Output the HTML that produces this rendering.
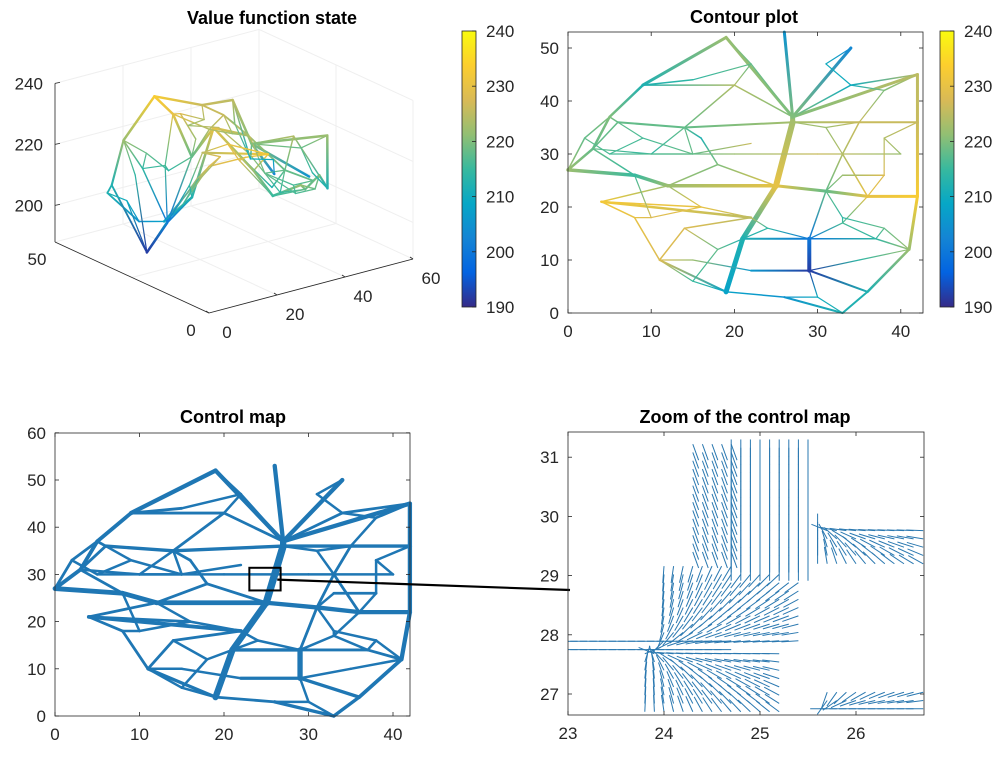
<!DOCTYPE html>
<html><head><meta charset="utf-8">
<style>
html,body{margin:0;padding:0;background:#fff;}
svg{display:block;font-family:"Liberation Sans",Arial,sans-serif;}
.tk{font-size:17px;fill:#262626;}
.tt{font-size:18px;font-weight:bold;fill:#000;}
</style></head>
<body>
<svg id="fig" width="1007" height="772" viewBox="0 0 1007 772">
<defs>
<linearGradient id="parula" x1="0" y1="1" x2="0" y2="0">
<stop offset="0" stop-color="#352A87"/><stop offset="0.125" stop-color="#0363E1"/><stop offset="0.25" stop-color="#1485D4"/><stop offset="0.375" stop-color="#06A7C6"/><stop offset="0.5" stop-color="#38B99E"/><stop offset="0.625" stop-color="#92BF73"/><stop offset="0.75" stop-color="#D9BA56"/><stop offset="0.875" stop-color="#FCCE2E"/><stop offset="1" stop-color="#F9FB0E"/>
</linearGradient>
</defs>
<text class="tt" x="272" y="24" text-anchor="middle">Value function state</text>
<text class="tt" x="744" y="23" text-anchor="middle">Contour plot</text>
<text class="tt" x="233" y="423" text-anchor="middle">Control map</text>
<text class="tt" x="745" y="423" text-anchor="middle">Zoom of the control map</text>
<g id="g3d"></g>
<g id="gcontour"></g>
<g id="gcontrol"></g>
<g id="gzoom"></g>
<g id="gcb"></g>
</svg>
<script>
// ---------- data ----------
const nodeX = [0,5,9,19,26,34,42,42,42,41,36,33,26,19,11,8,4,27,25,21,6,14,27,35,12,31,36,29,29,22,37,16,20,33,14,3,18,8,34,22,10,20,30,40,15,35,33,
  2,15,22,31,38,5,15,33,38,16,18,24,33,38,30,15,10,22,9,38,31];
const nodeY = [27,37,43,52,53,50,45,36,22,12,4,0,3,4,10,18,21,37,24,14,36,35,36,36,24,23,22,14,8,8,14,33,43,30,16,31,28,26,43,18,30,30,30,30,10,10,17,
  33,44,47,47,42,30,30,26,26,20,12,16,18,16,3,6,18,32,33,33,35];
const nodeV = [222,220,212,222,205,203,225,226,233,222,212,212,205,208,228,230,232,220,230,212,218,218,223,226,222,218,230,200,192,206,214,212,224,224,228,218,220,215,210,225,214,222,226,222,222,214,216,
  218,214,218,210,220,216,218,222,228,230,218,214,214,218,210,215,228,226,216,224,222];
const edgeA = [0,35,1,2,3,17,17,17,6,7,8,9,10,11,12,13,14,15,0,37,24,18,25,26,17,22,18,19,20,21,22,23,16,16,34,34,19,27,27,28,28,30,25,25,33,33,21,31,36,36,35,32,32,38,38,20,2,1,35,40,41,42,40,14,44,28,45,27,46,46,
  0,47,47,52,53,53,65,65,65,48,48,49,49,49,50,50,51,51,51,67,67,67,54,54,55,55,66,66,56,56,56,63,63,63,57,57,57,62,62,58,58,58,59,59,60,60,61,61,61,59];
const edgeB = [35,1,2,3,17,4,5,6,7,8,9,10,11,12,13,14,15,16,37,24,18,25,26,8,22,18,19,13,21,22,23,7,24,39,39,14,27,30,28,29,10,9,27,33,23,26,31,36,18,24,37,17,21,17,6,35,32,20,40,41,42,43,21,44,29,45,9,46,26,30,
  47,1,52,53,64,21,20,52,53,2,49,3,32,17,5,38,6,23,38,22,23,33,25,55,26,66,7,43,16,39,24,15,56,37,34,19,62,13,14,19,27,39,46,60,30,9,11,28,12,25];
const edgeW = [2.5,2.5,2.5,3,3,3,3,3,3,3,3,2.5,2,2,1.5,2,1.5,1.5,3.5,3.5,3.5,3,3,3,5,6,5,5,2,2,2,2,1.5,2.5,1.5,1.5,2,1.5,4,2,2,1.5,1.5,1.5,1.5,1.5,1.5,1.5,1.5,1.5,1.5,1.5,1.5,1.5,1.5,1.5,1.5,1.5,1.2,1.2,1.2,1.2,1.2,1.2,1.2,1.2,1.2,1.2,1.2,1.2,
  1.5,1.5,1.2,1.2,1.2,1.2,1.2,1.2,1.2,1.5,1.2,1.2,1.2,1.2,1.2,1.2,1.5,1.2,1.2,1.2,1.2,1.2,1.2,1.5,1.2,1.2,1.2,1.2,1.5,1.2,1.2,1.2,1.2,1.2,1.2,1.2,1.2,1.2,1.2,1.2,1.2,1.2,1.2,1.2,1.2,1.2,1.2,1.2,1.2,1.2];
const cbTicks = [190,200,210,220,230,240];
const contourXTicks = [0,10,20,30,40];
const contourYTicks = [0,10,20,30,40,50];
const controlXTicks = [0,10,20,30,40];
const controlYTicks = [0,10,20,30,40,50,60];
const zoomXTicks = [23,24,25,26];
const zoomYTicks = [27,28,29,30,31];
const d3ZTicks = [200,220,240];
const d3XTicks = [0,20,40,60];
const d3YTicks = [0,50];
// quiver regions in zoom (data coords): x0,x1,y0,y1, sink x, sink y (NaN = fixed angle deg in sinkY)
const qX0 = [24.7,24.0,23.8,25.6,23.0,24.3,25.7];
const qX1 = [25.5,25.4,25.2,26.7,24.7,24.7,26.7];
const qY0 = [29.2,27.9,26.7,29.2,27.75,29.4,26.75];
const qY1 = [31.4,29.2,27.7,29.8,27.95,31.3,27.05];
const qSX = [NaN,23.9,23.85,25.6,NaN,NaN,25.6];
const qSY = [-90,27.8,27.7,29.8,180,-70,26.75];

// ---------- helpers ----------
const NS="http://www.w3.org/2000/svg";
function mk(tag,attrs,parent){const e=document.createElementNS(NS,tag);for(const k in attrs)e.setAttribute(k,attrs[k]);parent.appendChild(e);return e;}
const stops=[[0,[53,42,135]],[0.125,[3,99,225]],[0.25,[20,133,212]],[0.375,[6,167,198]],[0.5,[56,185,158]],[0.625,[146,191,115]],[0.75,[217,186,86]],[0.875,[252,206,46]],[1,[249,251,14]]];
function parula(v){let t=(v-190)/50;t=Math.max(0,Math.min(1,t));for(let i=1;i<stops.length;i++){if(t<=stops[i][0]){const a=stops[i-1],b=stops[i];const f=(t-a[0])/(b[0]-a[0]);const c=a[1].map((x,j)=>Math.round(x+(b[1][j]-x)*f));return `rgb(${c[0]},${c[1]},${c[2]})`;}}return 'rgb(249,251,14)';}
const defs=document.querySelector('defs');
let gid=0;
function gradLine(parent,x1,y1,x2,y2,v1,v2,w,name){
  const id='lg'+(gid++);
  const lg=mk('linearGradient',{id:id,gradientUnits:'userSpaceOnUse',x1:x1,y1:y1,x2:x2,y2:y2},defs);
  mk('stop',{offset:0,'stop-color':parula(v1)},lg);mk('stop',{offset:1,'stop-color':parula(v2)},lg);
  const l=mk('line',{x1:x1,y1:y1,x2:x2+0.01,y2:y2+0.01,stroke:`url(#${id})`,'stroke-width':w,'stroke-linecap':'round'},parent);
  
  
  return l;
}
function txt(parent,x,y,s,anchor,name){const t=mk('text',{x:x,y:y,'text-anchor':anchor,class:'tk'},parent);t.textContent=s;
  
  return t;}
function axesBox(parent,x0,y0,x1,y1,name){const r=mk('rect',{x:x0,y:y0,width:x1-x0,height:y1-y0,fill:'none',stroke:'#262626','stroke-width':0.8},parent);
  
  }
function ticks2d(parent,xs,ys,sx,sy,x0,y0,x1,y1,pre){
  xs.forEach(v=>{const X=sx(v);mk('line',{x1:X,y1:y1,x2:X,y2:y1-4,stroke:'#262626','stroke-width':0.8},parent);mk('line',{x1:X,y1:y0,x2:X,y2:y0+4,stroke:'#262626','stroke-width':0.8},parent);txt(parent,X,y1+24,String(v),'middle',pre+'-x-tick-'+v);});
  ys.forEach(v=>{const Y=sy(v);mk('line',{x1:x0,y1:Y,x2:x0+4,y2:Y,stroke:'#262626','stroke-width':0.8},parent);mk('line',{x1:x1,y1:Y,x2:x1-4,y2:Y,stroke:'#262626','stroke-width':0.8},parent);txt(parent,x0-9,Y+6,String(v),'end',pre+'-y-tick-'+v);});
}

// ---------- contour plot ----------
(function(){
  const g=document.getElementById('gcontour');
  const x0=568,x1=923,y0=32,y1=313;
  const sx=v=>568+v*8.32, sy=v=>313-v*5.3;
  for(let i=0;i<edgeA.length;i++){const a=edgeA[i],b=edgeB[i];
    gradLine(g,sx(nodeX[a]),sy(nodeY[a]),sx(nodeX[b]),sy(nodeY[b]),nodeV[a],nodeV[b],edgeW[i],'contour-road-'+i);}
  axesBox(g,x0,y0,x1,y1,'contour-axes');
  ticks2d(g,contourXTicks,contourYTicks,sx,sy,x0,y0,x1,y1,'contour');
})();

// ---------- control map ----------
(function(){
  const g=document.getElementById('gcontrol');
  const x0=55,x1=410,y0=433,y1=716;
  const sx=v=>55+v*8.45, sy=v=>716-v*4.72;
  for(let i=0;i<edgeA.length;i++){const a=edgeA[i],b=edgeB[i];
    const l=mk('line',{x1:sx(nodeX[a]),y1:sy(nodeY[a]),x2:sx(nodeX[b]),y2:sy(nodeY[b]),stroke:'#1f77b4','stroke-width':edgeW[i]+1.3,'stroke-linecap':'round'},g);
    
    }
  axesBox(g,x0,y0,x1,y1,'control-axes');
  ticks2d(g,controlXTicks,controlYTicks,sx,sy,x0,y0,x1,y1,'control');
  const r=mk('rect',{x:sx(23),y:sy(31.4),width:sx(26.7)-sx(23),height:sy(26.6)-sy(31.4),fill:'none',stroke:'#000','stroke-width':2},g);
  
  
  const l=mk('line',{x1:sx(26.3),y1:sy(28.9),x2:570,y2:590,stroke:'#000','stroke-width':2.2},g);
  
  
})();

// ---------- zoom quiver ----------
(function(){
  const g=document.getElementById('gzoom');
  const x0=568,x1=924,y0=432,y1=715;
  const sx=v=>568+(v-23)*96, sy=v=>694-(v-27)*59.2;
  const step=0.1;
  for(let r=0;r<qX0.length;r++){
    for(let x=qX0[r];x<=qX1[r]+1e-6;x+=step){
      for(let y=qY0[r];y<=qY1[r]+1e-6;y+=step*1.4){
        let ang;
        if(isNaN(qSX[r])) ang=qSY[r]*Math.PI/180;
        else ang=Math.atan2(qSY[r]-y,qSX[r]-x);
        if(r===1 && y>29.4-(x-24)*0.3) continue;
        const X=sx(x),Y=sy(y),L=17;
        const dx=Math.cos(ang)*L,dy=-Math.sin(ang)*L;
        const px=Math.max(x0,Math.min(x1,X)),py=Math.max(y0,Math.min(y1,Y));
        const ex=Math.max(x0,Math.min(x1,X+dx)),ey=Math.max(y0,Math.min(y1,Y+dy));
        const a=mk('line',{x1:px,y1:py,x2:ex,y2:ey,stroke:'#2a78b0','stroke-width':1},g);
        
        
      }
    }
  }
  axesBox(g,x0,y0,x1,y1,'zoom-axes');
  ticks2d(g,zoomXTicks,zoomYTicks,sx,sy,x0,y0,x1,y1,'zoom');
})();

// ---------- 3D plot ----------
(function(){
  const g=document.getElementById('g3d');
  const P=(a,b,z)=>[209+3.4*a-3.08*b, 313-0.9*a-1.42*b-3.05*(z-188)];
  const gl={stroke:'#efefef','stroke-width':1};
  [0,20,40,60].forEach(a=>{const p=P(a,50,188),q=P(a,50,240);mk('line',Object.assign({x1:p[0],y1:p[1],x2:q[0],y2:q[1]},gl),g);});
  [0,20,40,60].forEach(a=>{const p=P(a,0,188),q=P(a,50,188);mk('line',Object.assign({x1:p[0],y1:p[1],x2:q[0],y2:q[1]},gl),g);});
  [0,25,50].forEach(b=>{const p=P(60,b,188),q=P(60,b,240);mk('line',Object.assign({x1:p[0],y1:p[1],x2:q[0],y2:q[1]},gl),g);const r=P(0,b,188);mk('line',Object.assign({x1:r[0],y1:r[1],x2:p[0],y2:p[1]},gl),g);});
  [200,220,240].forEach(z=>{const p=P(0,50,z),q=P(60,50,z),r=P(60,0,z);mk('polyline',Object.assign({points:`${p} ${q} ${r}`,fill:'none'},gl),g);});
  for(let i=0;i<edgeA.length;i++){const a=edgeA[i],b=edgeB[i];
    const p=P(nodeY[a],nodeX[a],nodeV[a]),q=P(nodeY[b],nodeX[b],nodeV[b]);
    gradLine(g,p[0],p[1],q[0],q[1],nodeV[a],nodeV[b],Math.min(edgeW[i],3)*0.7+0.4,'surface-edge-'+i);}
  const ax={stroke:'#262626','stroke-width':0.8};
  let A=P(0,50,188),B=P(0,0,188),C=P(60,0,188),Z=P(0,50,240);
  mk('line',Object.assign({x1:A[0],y1:A[1],x2:Z[0],y2:Z[1]},ax),g);
  mk('line',Object.assign({x1:A[0],y1:A[1],x2:B[0],y2:B[1]},ax),g);
  mk('line',Object.assign({x1:B[0],y1:B[1],x2:C[0],y2:C[1]},ax),g);
  d3ZTicks.forEach(z=>{const p=P(0,50,z);mk('line',Object.assign({x1:p[0],y1:p[1],x2:p[0]+5,y2:p[1]-1},ax),g);txt(g,p[0]-12,p[1]+6,String(z),'end','z-tick-'+z);});
  d3XTicks.forEach(a=>{const p=P(a,0,188);mk('line',Object.assign({x1:p[0],y1:p[1],x2:p[0]-3,y2:p[1]-2},ax),g);txt(g,p[0]+18,p[1]+25,String(a),'middle','x3d-tick-'+a);});
  d3YTicks.forEach(b=>{const p=P(0,b,188);txt(g,p[0]-18,p[1]+23,String(b),'middle','y3d-tick-'+b);});
})();

// ---------- colorbars ----------
(function(){
  const g=document.getElementById('gcb');
  [[462,31,307,'left'],[940,31,307,'right']].forEach(([x,yt,yb,n])=>{
    const r=mk('rect',{x:x,y:yt,width:14,height:yb-yt,fill:'url(#parula)',stroke:'#262626','stroke-width':0.8},g);
    
    
    cbTicks.forEach(v=>{const Y=yb-(v-190)/50*(yb-yt);
      mk('line',{x1:x+14,y1:Y,x2:x+10,y2:Y,stroke:'#262626','stroke-width':0.8},g);
      txt(g,x+24,Y+6,String(v),'start','colorbar-'+n+'-tick-'+v);});
  });
})();
</script>
</body></html>
